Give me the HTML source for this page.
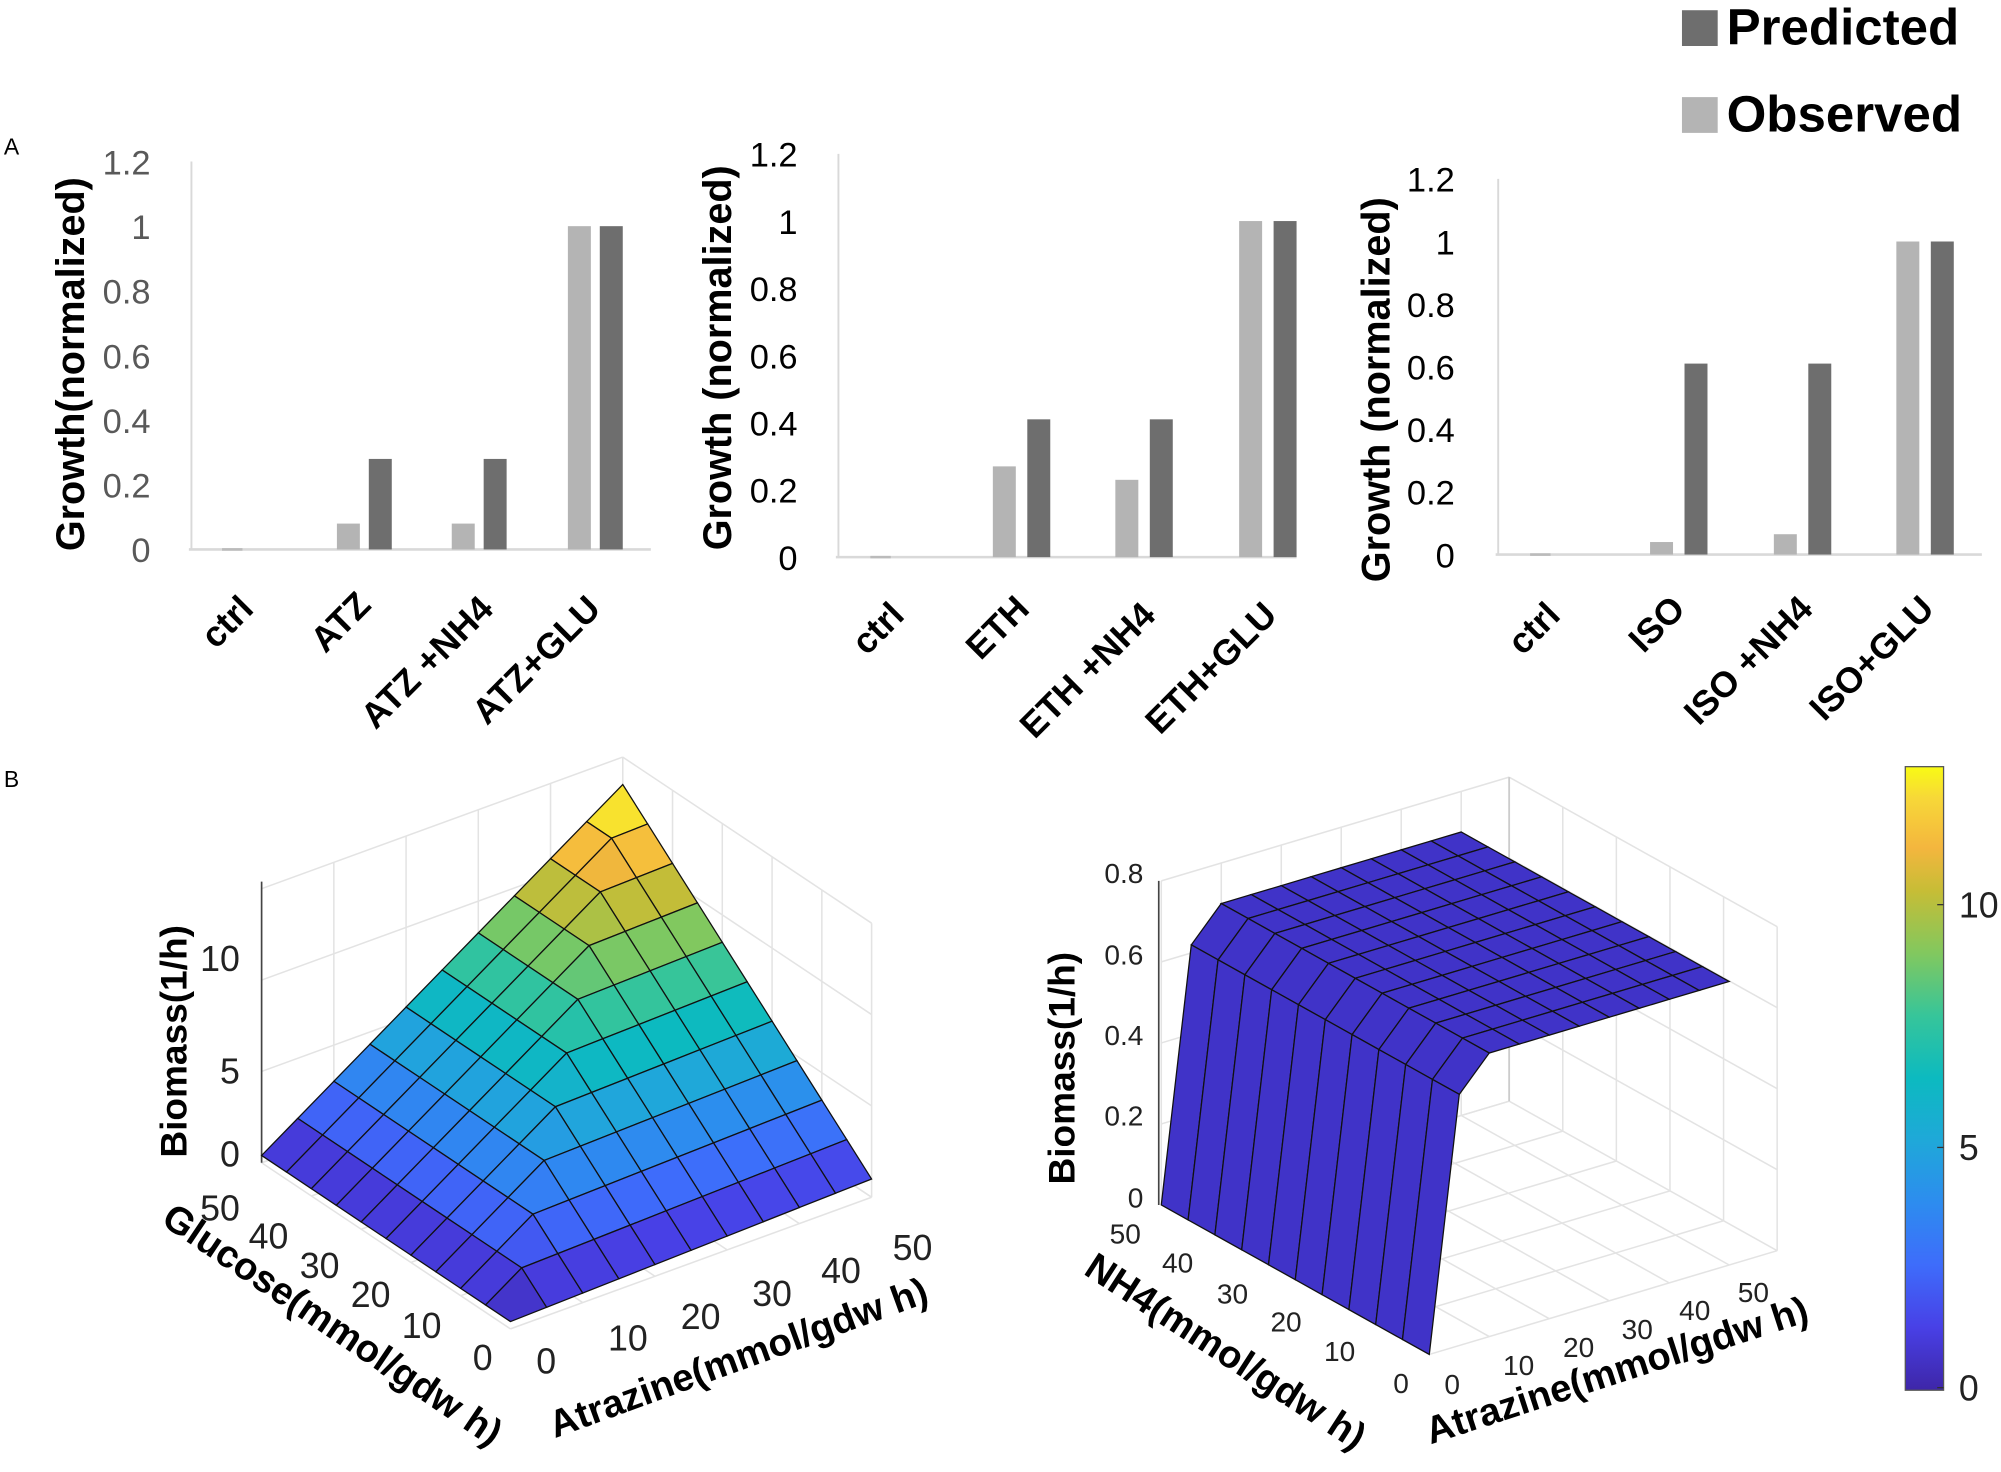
<!DOCTYPE html>
<html><head><meta charset="utf-8"><style>
html,body{margin:0;padding:0;background:#fff}
svg{display:block}
text{font-family:"Liberation Sans",sans-serif}
.b{font-weight:bold}
</style></head><body>
<svg id="s" width="2001" height="1472" viewBox="0 0 1568 1152" preserveAspectRatio="none" xmlns="http://www.w3.org/2000/svg">
<rect width="1568" height="1152" fill="#fff"/>
<!-- legend -->
<rect x="1318" y="8" width="28" height="28" fill="#6e6e6e"/>
<text x="1353" y="35" font-size="40" class="b" fill="#000">Predicted</text>
<rect x="1318" y="76" width="28" height="28" fill="#b4b4b4"/>
<text x="1353" y="103" font-size="40" class="b" fill="#000">Observed</text>
<text x="3" y="121" font-size="18">A</text>
<text x="3" y="616" font-size="18">B</text>
<g id="bars"></g>
<g id="s3d"></g>
</svg>
<script>
var NS="http://www.w3.org/2000/svg";
function el(p,t,a,txt){var e=document.createElementNS(NS,t);for(var k in a)e.setAttribute(k,a[k]);if(txt!==undefined)e.textContent=txt;p.appendChild(e);return e;}
var B=document.getElementById('bars');
var panels=[
 {x0:148,x1:510,y0:430,y1:177,lx:118,lc:'#595959',title:'Growth(normalized)',tx:55,ty:285,
  cats:['ctrl','ATZ','ATZ +NH4','ATZ+GLU'],obs:[[264,0.08],[354,0.08],[445,1]],pred:[[289,0.28],[379,0.28],[470,1]],lab:[[200,468],[292,465],[388,468],[472,468]],zero:182},
 {x0:655,x1:1016,y0:436,y1:173,lx:625,lc:'#000',title:'Growth (normalized)',tx:562,ty:280,
  cats:['ctrl','ETH','ETH +NH4','ETH+GLU'],obs:[[778,0.27],[874,0.23],[971,1]],pred:[[805,0.41],[901,0.41],[998,1]],lab:[[710,473],[808,468],[907,473],[1002,473]],zero:690},
 {x0:1172,x1:1553,y0:434,y1:189,lx:1140,lc:'#000',title:'Growth (normalized)',tx:1078,ty:305,
  cats:['ctrl','ISO','ISO +NH4','ISO+GLU'],obs:[[1293,0.04],[1390,0.065],[1486,1]],pred:[[1320,0.61],[1417,0.61],[1513,1]],lab:[[1224,473],[1322,468],[1422,468],[1517,468]],zero:1207}
];
panels.forEach(function(p){
 var u=p.y0-p.y1;
 el(B,'line',{x1:p.x0+2,y1:p.y0-1.2*u,x2:p.x0+2,y2:p.y0,stroke:'#d9d9d9','stroke-width':1.5});
 el(B,'line',{x1:p.x0,y1:p.y0,x2:p.x1,y2:p.y0,stroke:'#d9d9d9','stroke-width':2});
 el(B,'line',{x1:p.zero-8,y1:p.y0,x2:p.zero+8,y2:p.y0,stroke:'#bbb','stroke-width':2});
 ['0','0.2','0.4','0.6','0.8','1','1.2'].forEach(function(t,i){
  el(B,'text',{x:p.lx,y:p.y0-i*0.2*u+10,'font-size':27,'text-anchor':'end',fill:p.lc},t);});
 el(B,'text',{x:0,y:0,'font-size':31,'class':'b','text-anchor':'middle',transform:'translate('+(p.tx+11)+','+p.ty+') rotate(-90)'},p.title);
 p.obs.forEach(function(o){el(B,'rect',{x:o[0],y:p.y0-o[1]*u,width:18,height:o[1]*u,fill:'#b4b4b4'});});
 p.pred.forEach(function(o){el(B,'rect',{x:o[0],y:p.y0-o[1]*u,width:18,height:o[1]*u,fill:'#6e6e6e'});});
 p.cats.forEach(function(c,i){var l=p.lab[i];
  el(B,'text',{x:0,y:0,'font-size':28,'class':'b','text-anchor':'end',transform:'translate('+l[0]+','+(l[1]+10)+') rotate(-45)'},c);});
});
// parula
var stops=[[0,[62,38,168]],[0.1,[72,64,230]],[0.2,[62,108,251]],[0.3,[45,140,239]],[0.4,[31,168,217]],[0.5,[12,186,192]],[0.6,[54,197,154]],[0.7,[129,200,95]],[0.8,[198,189,54]],[0.87,[244,182,62]],[0.95,[247,216,56]],[1,[249,251,20]]];
function cmap(t){t=Math.max(0,Math.min(1,t));for(var i=1;i<stops.length;i++){if(t<=stops[i][0]){var a=stops[i-1],b=stops[i],f=(t-a[0])/(b[0]-a[0]);return 'rgb('+[0,1,2].map(function(k){return Math.round(a[1][k]+f*(b[1][k]-a[1][k]))}).join(',')+')';}}return 'rgb(249,251,20)';}
var S=document.getElementById('s3d');
function gl(x1,y1,x2,y2,c,w){el(S,'line',{x1:x1,y1:y1,x2:x2,y2:y2,stroke:c||'#e3e3e3','stroke-width':w||1.2});}
// ---- left 3D ----
function P1(g,a,z){return [400+(-195)*g/50+283*a/50, 1040+(-130)*g/50+(-103)*a/50-14.3*z];}
// back walls grid
var bk=P1(50,50,0);
for(var i=0;i<=3;i++){var zz=i*5;var p1=P1(50,0,zz),p2=P1(50,50,zz),p3=P1(0,50,zz);gl(p1[0],p1[1],p2[0],p2[1]);gl(p2[0],p2[1],p3[0],p3[1]);}
for(var i=0;i<=5;i++){var a=P1(50,i*10,0),b=P1(50,i*10,15);gl(a[0],a[1],b[0],b[1]);var c=P1(i*10,50,0),d=P1(i*10,50,15);gl(c[0],c[1],d[0],d[1]);}
for(var i=0;i<=5;i++){var a=P1(i*10,0,0),b=P1(i*10,50,0);gl(a[0],a[1],b[0],b[1]);var c=P1(0,i*10,0),d=P1(50,i*10,0);gl(c[0],c[1],d[0],d[1]);}
gl(205,690,205,910,'#444',1.3);
function f1(g,a){return 0.25*Math.min(g,a)+0.4+0.012*a;}
var cells=[];for(var i=0;i<10;i++)for(var j=0;j<10;j++)cells.push([i,j]);
cells.sort(function(A,B){return (B[0]+B[1])-(A[0]+A[1]);});
cells.forEach(function(c){var g0=c[0]*5,g1=g0+5,a0=c[1]*5,a1=a0+5;
 var pts=[[g0,a0],[g1,a0],[g1,a1],[g0,a1]].map(function(q){return P1(q[0],q[1],f1(q[0],q[1]));});
 var zm=(f1(g0,a0)+f1(g1,a0)+f1(g1,a1)+f1(g0,a1))/4;
 el(S,'polygon',{points:pts.map(function(p){return p.join(',')}).join(' '),fill:cmap(zm/13),stroke:'#111','stroke-width':1});});
[['0',903],['5',838],['10',750]].forEach(function(t){el(S,'text',{x:188,y:t[1]+10,'font-size':28,'text-anchor':'end',fill:'#222'},t[0]);});
[['50',188,945],['40',226,967],['30',266,990],['20',306,1013],['10',346,1037],['0',386,1062]].forEach(function(t){el(S,'text',{x:t[1],y:t[2]+10,'font-size':28,'text-anchor':'end',fill:'#222'},t[0]);});
[['0',428,1065],['10',492,1047],['20',549,1030],['30',605,1012],['40',659,994],['50',715,976]].forEach(function(t){el(S,'text',{x:t[1],y:t[2]+10,'font-size':28,'text-anchor':'middle',fill:'#222'},t[0]);});
el(S,'text',{x:0,y:0,'font-size':29,'class':'b','text-anchor':'middle',transform:'translate(146,815) rotate(-90)'},'Biomass(1/h)');
el(S,'text',{x:0,y:0,'font-size':30,'class':'b','text-anchor':'middle',transform:'translate(255,1045) rotate(34)'},'Glucose(mmol/gdw h)');
el(S,'text',{x:0,y:0,'font-size':30,'class':'b','text-anchor':'middle',transform:'translate(582,1072) rotate(-20)'},'Atrazine(mmol/gdw h)');
// ---- right 3D ----
function P2(n,a,z){return [1120-210*n/50+235*a/50, 1060-117*n/50-70*a/50-317*z];}
// box/grid
for(var i=0;i<=4;i++){var zz=i*0.2;var p1=P2(50,0,zz),p2=P2(50,58,zz),p3=P2(0,58,zz);gl(p1[0],p1[1],p2[0],p2[1]);gl(p2[0],p2[1],p3[0],p3[1]);}
for(var i=0;i<=5;i++){var a=P2(50,i*10,0),b=P2(50,i*10,0.8);gl(a[0],a[1],b[0],b[1]);var c=P2(i*10,58,0),d=P2(i*10,58,0.8);gl(c[0],c[1],d[0],d[1]);}
for(var i=0;i<=5;i++){var a=P2(i*10,0,0),b=P2(i*10,58,0);gl(a[0],a[1],b[0],b[1]);var c=P2(0,i*10,0),d=P2(50,i*10,0);gl(c[0],c[1],d[0],d[1]);}
var q=P2(50,58,0.8),r=P2(50,58,0);gl(q[0],q[1],r[0],r[1],'#ccc',1.4);
var zA=P2(50,0,0),zB=P2(50,0,0.8);gl(zA[0]-2,zA[1],zB[0]-2,zB[1],'#444',1.3);
function f2(n,a){return a<=0?0:(a<=5?0.62:0.70);}
var cells2=[];for(var i=0;i<10;i++)for(var j=0;j<10;j++)cells2.push([i,j]);
cells2.sort(function(A,B){return (B[0]+B[1])-(A[0]+A[1]);});
cells2.forEach(function(c){var n0=c[0]*5,n1=n0+5,a0=c[1]*5,a1=a0+5;
 var pts=[[n0,a0],[n1,a0],[n1,a1],[n0,a1]].map(function(q){return P2(q[0],q[1],f2(q[0],q[1]));});
 el(S,'polygon',{points:pts.map(function(p){return p.join(',')}).join(' '),fill:'#4033c8',stroke:'#111','stroke-width':1});});
[['0',937],['0.2',873],['0.4',810],['0.6',747],['0.8',683]].forEach(function(t){el(S,'text',{x:896,y:t[1]+8,'font-size':22,'text-anchor':'end',fill:'#222'},t[0]);});
[['50',894,965],['40',935,988],['30',978,1012],['20',1020,1034],['10',1062,1057],['0',1104,1082]].forEach(function(t){el(S,'text',{x:t[1],y:t[2]+8,'font-size':22,'text-anchor':'end',fill:'#222'},t[0]);});
[['0',1138,1083],['10',1190,1068],['20',1237,1054],['30',1283,1040],['40',1328,1025],['50',1374,1011]].forEach(function(t){el(S,'text',{x:t[1],y:t[2]+8,'font-size':22,'text-anchor':'middle',fill:'#222'},t[0]);});
el(S,'text',{x:0,y:0,'font-size':29,'class':'b','text-anchor':'middle',transform:'translate(842,836) rotate(-90)'},'Biomass(1/h)');
el(S,'text',{x:0,y:0,'font-size':30,'class':'b','text-anchor':'middle',transform:'translate(955,1066) rotate(33)'},'NH4(mmol/gdw h)');
el(S,'text',{x:0,y:0,'font-size':30,'class':'b','text-anchor':'middle',transform:'translate(1270,1082) rotate(-18)'},'Atrazine(mmol/gdw h)');
// colorbar
var defs=el(S,'defs',{});var lg=el(defs,'linearGradient',{id:'pg',x1:0,y1:1,x2:0,y2:0});
stops.forEach(function(s){el(lg,'stop',{offset:s[0],'stop-color':cmap(s[0])});});
el(S,'rect',{x:1493,y:600,width:30,height:488,fill:'url(#pg)',stroke:'#555','stroke-width':1});
[['0',1086],['5',898],['10',708]].forEach(function(t){el(S,'line',{x1:1518,y1:t[1],x2:1523,y2:t[1],stroke:'#333'});el(S,'text',{x:1535,y:t[1]+10,'font-size':28,fill:'#222'},t[0]);});
</script>
</body></html>
